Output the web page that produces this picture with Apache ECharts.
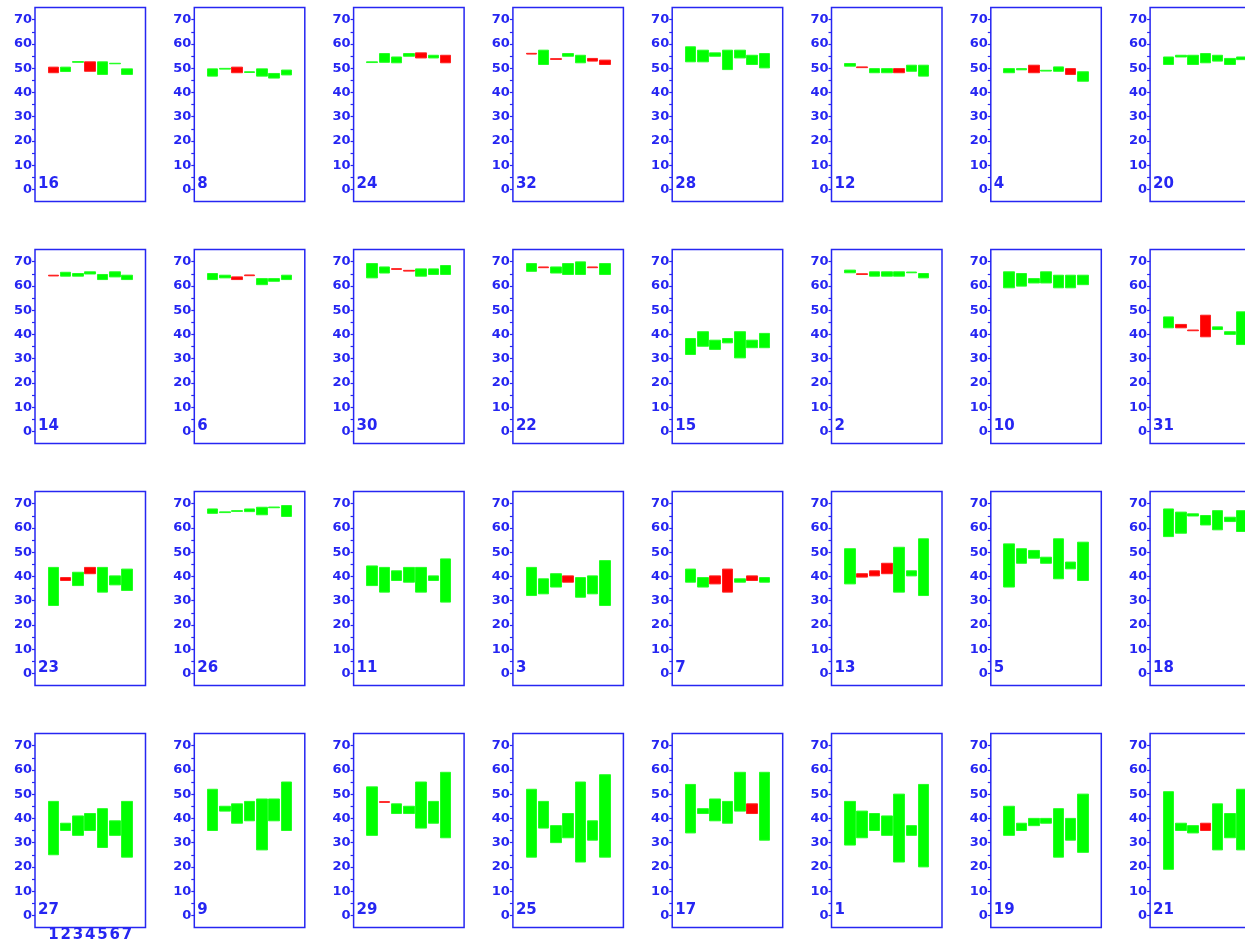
<!DOCTYPE html>
<html>
<head>
<meta charset="utf-8">
<script src="https://cdn.jsdelivr.net/npm/echarts@6/dist/echarts.min.js"></script>
<style>
html,body{margin:0;padding:0;background:#fff;}
#chart{width:1245px;height:941px;}
</style>
</head>
<body>
<div id="chart"></div>
<script>
// x categories (slots 0 and 8 are empty padding), y tick labels
const xCategories = ['0','1','2','3','4','5','6','7','8'];
const yLabels = [0,10,20,30,40,50,60,70];
const yTicks = [0,5,10,15,20,25,30,35,40,45,50,55,60,65,70];

// panel ids, row by row
const panelIds = [16,8,24,32,28,12,4,20, 14,6,30,22,15,2,10,31, 23,26,11,3,7,13,5,18, 27,9,29,25,17,1,19,21];

// each candle: [open, close]  (red when close < open)
const p16 = [[50.4,48.1],[48.6,50.4],[52.4,52.7],[52.6,48.7],[47.4,52.6],[51.8,52.0],[47.4,49.7]];
const p8  = [[46.7,49.7],[49.6,49.9],[50.4,48.1],[48.2,48.5],[46.7,49.7],[45.9,47.8],[47.2,49.2]];
const p24 = [[52.3,52.6],[52.4,56.0],[52.2,54.6],[54.9,56.0],[56.3,54.2],[54.2,55.3],[55.3,52.2]];
const p32 = [[56.1,55.8],[51.5,57.4],[53.9,53.6],[54.9,56.0],[52.2,55.3],[54.0,52.9],[53.3,51.5]];
const p28 = [[52.6,58.8],[52.6,57.4],[54.9,56.3],[49.4,57.4],[54.2,57.4],[51.5,55.3],[50.1,56.0]];
const p12 = [[50.8,51.9],[50.5,50.2],[48.1,49.8],[48.1,49.8],[49.8,48.1],[48.7,51.2],[46.7,51.2]];
const p4  = [[48.1,49.8],[49.3,49.8],[51.2,48.1],[48.8,49.1],[48.7,50.5],[49.8,47.4],[44.6,48.5]];
const p20 = [[51.5,54.6],[54.6,55.3],[51.5,55.3],[52.2,56.0],[52.9,55.3],[51.5,54.0],[53.5,54.6]];

const p14 = [[64.4,64.1],[64.0,65.6],[64.0,65.1],[64.9,65.8],[62.6,64.7],[63.7,65.8],[62.6,64.4]];
const p6  = [[62.6,65.1],[63.3,64.4],[63.7,62.6],[64.5,64.2],[60.5,63.0],[61.9,63.0],[62.6,64.4]];
const p30 = [[63.3,69.2],[65.3,67.8],[67.1,66.8],[66.4,66.1],[64.0,67.0],[64.7,67.0],[64.7,68.4]];
const p22 = [[66.0,69.2],[67.8,67.5],[65.3,67.8],[64.7,69.2],[64.7,69.9],[67.8,67.5],[64.7,69.2]];
const p15 = [[31.7,38.3],[35.1,41.1],[33.8,37.6],[36.5,38.3],[30.3,41.1],[34.5,37.6],[34.5,40.4]];
const p2  = [[65.4,66.5],[65.0,64.7],[64.0,65.8],[64.0,65.8],[64.0,65.8],[65.4,65.7],[63.3,65.1]];
const p10 = [[59.2,65.8],[59.9,65.1],[61.2,63.0],[61.2,65.8],[59.2,64.4],[59.2,64.4],[60.5,64.4]];
const p31 = [[42.7,47.2],[44.1,42.7],[41.8,41.5],[47.9,39.0],[42.0,43.1],[40.0,41.1],[35.8,49.3]];

const p23 = [[28.0,43.7],[39.5,38.3],[36.2,41.7],[43.7,41.1],[33.5,43.7],[36.5,40.2],[34.2,43.0]];
const p26 = [[66.0,67.8],[66.3,66.6],[66.8,67.1],[66.7,67.8],[65.4,68.5],[68.3,68.6],[64.7,69.2]];
const p11 = [[36.2,44.3],[33.5,43.7],[38.3,42.3],[37.6,43.7],[33.5,43.7],[38.3,40.2],[29.4,47.2]];
const p3  = [[32.1,43.7],[32.8,39.0],[35.6,41.1],[40.2,37.6],[31.4,39.5],[32.8,40.2],[28.0,46.5]];
const p7  = [[37.6,43.0],[35.6,39.5],[40.2,36.9],[43.0,33.5],[37.6,39.0],[40.2,38.3],[37.6,39.5]];
const p13 = [[36.9,51.4],[41.1,39.7],[42.3,40.2],[45.4,41.1],[33.5,52.0],[40.2,42.3],[32.1,55.5]];
const p5  = [[35.6,53.4],[45.4,51.4],[47.5,50.7],[45.4,47.9],[39.0,55.5],[43.1,45.9],[38.3,54.1]];
const p18 = [[56.4,67.8],[57.8,66.5],[64.9,65.8],[61.2,65.1],[59.2,67.1],[62.6,64.4],[58.5,67.1]];

const p27 = [[25,47],[35,38],[33,41],[35,42],[28,44],[33,39],[24,47]];
const p9  = [[35,52],[43,45],[38,46],[39,47],[27,48],[39,48],[35,55]];
const p29 = [[33,53],[46.9,46.6],[42,46],[42,45],[36,55],[38,47],[32,59]];
const p25 = [[24,52],[36,47],[30,37],[32,42],[22,55],[31,39],[24,58]];
const p17 = [[34,54],[42,44],[39,48],[38,47],[43,59],[46,42],[31,59]];
const p1  = [[29,47],[32,43],[35,42],[33,41],[22,50],[33,37],[20,54]];
const p19 = [[33,45],[35,38],[37,40],[38,40],[24,44],[31,40],[26,50]];
const p21 = [[19,51],[35,38],[34,37],[38,35],[27,46],[32,42],[27,52]];

const panels = [p16,p8,p24,p32,p28,p12,p4,p20, p14,p6,p30,p22,p15,p2,p10,p31,
                p23,p26,p11,p3,p7,p13,p5,p18, p27,p9,p29,p25,p17,p1,p19,p21];

const BLUE = '#2626f2';
const FONT = 'DejaVu Sans';
const colLeft0 = 35, colPitch = 159.3, boxW = 110.5;
const rowTop0 = 7.5, rowPitch = 242, boxH = 194;
const NCOL = 8;

const grids = [], xAxes = [], yAxes = [], series = [], titles = [];
panels.forEach((p, i) => {
  const r = Math.floor(i / NCOL), c = i % NCOL;
  const left = colLeft0 + c * colPitch, top = rowTop0 + r * rowPitch;
  grids.push({left: left, top: top, width: boxW, height: boxH, show: true,
    borderColor: BLUE, borderWidth: 1.5, backgroundColor: 'transparent',
    containLabel: false, outerBoundsMode: 'none'});
  const showX = (i === 24);
  xAxes.push({type: 'category', gridIndex: i, data: xCategories, boundaryGap: true,
    axisLine: {show: false}, axisTick: {show: false}, splitLine: {show: false},
    axisLabel: {show: showX, interval: 0, margin: 0, color: BLUE, fontFamily: FONT,
      fontWeight: 'bold', fontSize: 15,
      formatter: v => (v === '0' || v === '8') ? '' : v}});
  yAxes.push({type: 'value', gridIndex: i, min: -5, max: 75,
    axisLine: {show: false}, splitLine: {show: false},
    axisTick: {show: true, length: 3, customValues: yTicks, lineStyle: {color: BLUE, width: 1.2}},
    axisLabel: {show: true, customValues: yLabels, margin: 3, color: BLUE, fontFamily: FONT,
      fontWeight: 'bold', fontSize: 13, padding: [0, 0, 5, 0]}});
  series.push({type: 'candlestick', xAxisIndex: i, yAxisIndex: i, barWidth: '90%',
    encode: {x: 0, y: [1, 2, 3, 4]},
    itemStyle: {color: '#00ff00', color0: '#ff0000', borderColor: '#22ff22', borderColor0: '#ff2020', borderWidth: 1},
    data: p.map((d, k) => [k + 1, d[0], d[1], Math.min(d[0], d[1]), Math.max(d[0], d[1])])});
  titles.push({text: String(panelIds[i]), left: left + 3, top: top + 169, padding: 0,
    textStyle: {color: BLUE, fontFamily: FONT, fontWeight: 'bold', fontSize: 15}});
});

const chart = echarts.init(document.getElementById('chart'), null, {renderer: 'canvas'});
chart.setOption({
  animation: false,
  backgroundColor: '#ffffff',
  title: titles,
  grid: grids,
  xAxis: xAxes,
  yAxis: yAxes,
  series: series
});
</script>
</body>
</html>
